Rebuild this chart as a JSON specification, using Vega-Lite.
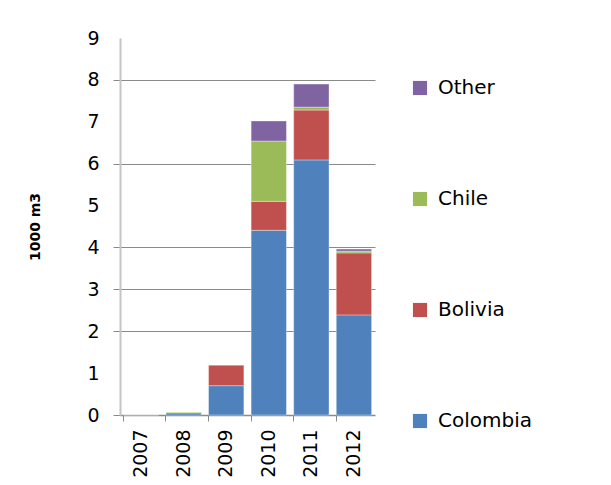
{
  "$schema": "https://vega.github.io/schema/vega-lite/v6.json",
  "autosize": "none",
  "width": 255,
  "height": 377,
  "padding": {"left": 120, "top": 38, "right": 236, "bottom": 70},
  "background": "white",
  "config": {
    "view": {"stroke": null},
    "font": "DejaVu Sans"
  },
  "data": {
    "values": [
      {"year": "2007", "country": "Colombia", "value": 0},
      {"year": "2008", "country": "Colombia", "value": 0.05},
      {"year": "2008", "country": "Chile", "value": 0.015},
      {"year": "2009", "country": "Colombia", "value": 0.7},
      {"year": "2009", "country": "Bolivia", "value": 0.49},
      {"year": "2010", "country": "Colombia", "value": 4.41},
      {"year": "2010", "country": "Bolivia", "value": 0.69},
      {"year": "2010", "country": "Chile", "value": 1.44},
      {"year": "2010", "country": "Other", "value": 0.48},
      {"year": "2011", "country": "Colombia", "value": 6.09},
      {"year": "2011", "country": "Bolivia", "value": 1.19},
      {"year": "2011", "country": "Chile", "value": 0.07},
      {"year": "2011", "country": "Other", "value": 0.55},
      {"year": "2012", "country": "Colombia", "value": 2.39},
      {"year": "2012", "country": "Bolivia", "value": 1.48},
      {"year": "2012", "country": "Chile", "value": 0.04},
      {"year": "2012", "country": "Other", "value": 0.05}
    ]
  },
  "transform": [
    {"calculate": "indexof(['Colombia','Bolivia','Chile','Other'], datum.country)", "as": "ord"}
  ],
  "mark": {"type": "bar", "stroke": "white", "strokeWidth": 0.6, "strokeOpacity": 0.6},
  "encoding": {
    "x": {
      "field": "year",
      "type": "nominal",
      "scale": {"paddingInner": 0.17, "paddingOuter": 0.08},
      "axis": {
        "title": null,
        "labelAngle": -90,
        "labelFontSize": 19,
        "labelColor": "black",
        "labelPadding": 8,
        "bandPosition": 0,
        "tickSize": 6,
        "tickColor": "#8a8a8a",
        "domainColor": "#8a8a8a",
        "domainWidth": 1.5
      }
    },
    "y": {
      "field": "value",
      "type": "quantitative",
      "aggregate": "sum",
      "stack": "zero",
      "scale": {"domain": [0, 9], "nice": false},
      "axis": {
        "title": "1000 m3",
        "titleFontSize": 14,
        "titleFontWeight": "bold",
        "titleColor": "black",
        "titlePadding": 44,
        "values": [0, 1, 2, 3, 4, 5, 6, 7, 8, 9],
        "labelFontSize": 19,
        "labelColor": "black",
        "labelPadding": 14,
        "tickSize": 7,
        "tickColor": {"condition": {"test": "datum.value==1||datum.value==5||datum.value==7||datum.value==9", "value": "transparent"}, "value": "#8a8a8a"},
        "grid": true,
        "gridColor": {"condition": {"test": "datum.value==1||datum.value==5||datum.value==7||datum.value==9||datum.value==0", "value": "transparent"}, "value": "#8a8a8a"},
        "domainColor": "#c4c4c4",
        "domainWidth": 2
      }
    },
    "color": {
      "field": "country",
      "type": "nominal",
      "scale": {
        "domain": ["Other", "Chile", "Bolivia", "Colombia"],
        "range": ["#8064A2", "#9BBB59", "#C0504D", "#4F81BD"]
      },
      "legend": {
        "title": null,
        "orient": "none",
        "legendX": 290,
        "legendY": 40,
        "symbolType": "square",
        "symbolSize": 200,
        "symbolStrokeWidth": 0,
        "labelFontSize": 20,
        "labelColor": "black",
        "labelOffset": 8,
        "rowPadding": 91,
        "padding": 0
      }
    },
    "order": {"field": "ord", "type": "quantitative", "sort": "ascending"}
  }
}
